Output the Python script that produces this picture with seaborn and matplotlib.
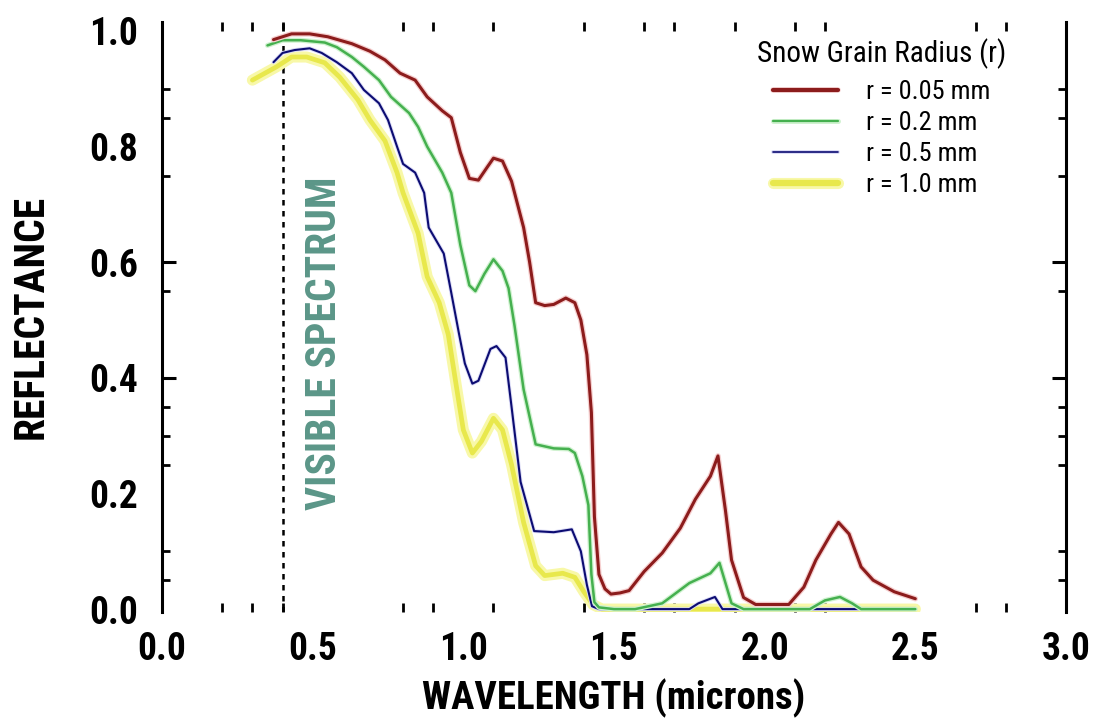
import matplotlib
matplotlib.use("Agg")
import matplotlib.pyplot as plt
import matplotlib.patheffects as pe
from matplotlib import font_manager as fm
import seaborn as sns
import pandas as pd

# ---------------- data ----------------
red_x = [0.37, 0.43, 0.49, 0.55, 0.63, 0.69, 0.74, 0.79, 0.84, 0.88, 0.93, 0.96, 0.99, 1.02, 1.05,
         1.08, 1.10, 1.13, 1.16, 1.20, 1.22, 1.24, 1.27, 1.30, 1.34, 1.37, 1.39, 1.41, 1.425, 1.435,
         1.45, 1.47, 1.49, 1.52, 1.55, 1.60, 1.66, 1.72, 1.77, 1.82, 1.845, 1.87, 1.89, 1.93, 1.97,
         2.08, 2.13, 2.17, 2.22, 2.245, 2.28, 2.32, 2.36, 2.43, 2.50]
red_y = [0.985, 0.995, 0.995, 0.99, 0.978, 0.965, 0.95, 0.927, 0.915, 0.886, 0.862, 0.85, 0.79, 0.745, 0.742,
         0.765, 0.78, 0.775, 0.74, 0.66, 0.60, 0.53, 0.525, 0.527, 0.538, 0.53, 0.50, 0.44, 0.34, 0.16,
         0.06, 0.035, 0.026, 0.028, 0.032, 0.065, 0.097, 0.14, 0.19, 0.23, 0.265, 0.17, 0.085, 0.02, 0.008,
         0.008, 0.038, 0.085, 0.13, 0.15, 0.13, 0.073, 0.05, 0.03, 0.018]

green_x = [0.35, 0.40, 0.46, 0.54, 0.58, 0.63, 0.67, 0.72, 0.76, 0.82, 0.85, 0.88, 0.93, 0.96, 0.99,
           1.02, 1.04, 1.07, 1.10, 1.13, 1.15, 1.17, 1.20, 1.24, 1.30, 1.35, 1.37, 1.395, 1.415, 1.425,
           1.435, 1.45, 1.50, 1.57, 1.66, 1.75, 1.82, 1.85, 1.87, 1.89, 1.93, 2.15, 2.20, 2.25, 2.29,
           2.32, 2.50]
green_y = [0.975, 0.984, 0.984, 0.98, 0.972, 0.955, 0.938, 0.915, 0.886, 0.858, 0.834, 0.80, 0.755, 0.72, 0.63,
           0.56, 0.55, 0.58, 0.605, 0.585, 0.555, 0.49, 0.38, 0.285, 0.278, 0.277, 0.27, 0.23, 0.18, 0.06,
           0.012, 0.003, 0.0, 0.0, 0.01, 0.045, 0.062, 0.08, 0.045, 0.01, 0.0, 0.0, 0.015, 0.021, 0.01,
           0.0, 0.0]

blue_x = [0.37, 0.40, 0.44, 0.49, 0.53, 0.58, 0.63, 0.67, 0.72, 0.75, 0.78, 0.80, 0.84, 0.87, 0.885,
          0.935, 0.96, 0.985, 1.005, 1.03, 1.05, 1.09, 1.11, 1.14, 1.16, 1.19, 1.235, 1.30, 1.36, 1.39,
          1.41, 1.427, 1.45, 1.75, 1.78, 1.835, 1.86, 2.50]
blue_y = [0.946, 0.962, 0.967, 0.97, 0.962, 0.946, 0.927, 0.898, 0.875, 0.846, 0.80, 0.77, 0.755, 0.72, 0.66,
          0.615, 0.547, 0.478, 0.425, 0.39, 0.395, 0.45, 0.455, 0.435, 0.35, 0.22, 0.135, 0.133, 0.138, 0.10,
          0.042, 0.005, 0.0, 0.0, 0.01, 0.021, 0.0, 0.0]

yellow_x = [0.30, 0.38, 0.43, 0.48, 0.54, 0.59, 0.65, 0.69, 0.74, 0.78, 0.80, 0.85, 0.88, 0.92, 0.95,
            0.98, 1.00, 1.03, 1.06, 1.10, 1.13, 1.16, 1.20, 1.24, 1.27, 1.33, 1.37, 1.40, 1.43, 1.46, 2.50]
yellow_y = [0.915, 0.938, 0.955, 0.955, 0.945, 0.92, 0.881, 0.846, 0.81, 0.755, 0.72, 0.65, 0.575, 0.53, 0.475,
            0.375, 0.31, 0.27, 0.29, 0.33, 0.31, 0.25, 0.15, 0.075, 0.058, 0.062, 0.055, 0.03, 0.008, 0.0, 0.0]

series_labels = ["r = 0.05 mm", "r = 0.2 mm", "r = 0.5 mm", "r = 1.0 mm"]
x_tick_values = [0.0, 0.5, 1.0, 1.5, 2.0, 2.5, 3.0]
x_tick_labels = ["0.0", "0.5", "1.0", "1.5", "2.0", "2.5", "3.0"]
y_tick_values = [0.0, 0.2, 0.4, 0.6, 0.8, 1.0]
y_tick_labels = ["0.0", "0.2", "0.4", "0.6", "0.8", "1.0"]
x_minor_ticks = [0.2, 0.3, 0.4, 0.5, 0.8, 0.9, 1.1, 1.4, 1.6, 1.7, 1.9, 2.0, 2.1, 2.2, 2.5, 2.7, 2.8]
y_minor_ticks = [0.05, 0.1, 0.25, 0.3, 0.35, 0.55, 0.75, 0.85, 0.9]
visible_edge = 0.4

# ---------------- style ----------------
sns.set_theme(style="white")
names = {f.name for f in fm.fontManager.ttflist}
cands = ["Liberation Sans Narrow", "Roboto Condensed", "Open Sans Condensed", "DejaVu Sans Condensed"]
narrow_name = next((c for c in cands if c in names), None)
condensed_dejavu = any(f.name == "DejaVu Sans" and f.stretch == "condensed" for f in fm.fontManager.ttflist)
if narrow_name:
    narrow = [narrow_name, "DejaVu Sans"]
    stretch = "normal"
elif condensed_dejavu:
    narrow = ["DejaVu Sans"]
    stretch = "condensed"
else:
    narrow = ["Liberation Sans", "DejaVu Sans"]
    stretch = "normal"
plt.rcParams["font.family"] = narrow
plt.rcParams["font.stretch"] = stretch
for k in ["text.color", "axes.labelcolor", "xtick.color", "ytick.color"]:
    plt.rcParams[k] = "black"

fig = plt.figure(figsize=(10.93, 7.20), dpi=100)
W, H = 1093, 720
left, right, top, bottom = 162, 1066, 22.3, 612
ax = fig.add_axes([left / W, 1 - bottom / H, (right - left) / W, (bottom - top) / H])

colors = ["#8c1c1c", "#45b04f", "#0c0c72", "#e8e84c"]
widths = [2.2, 1.8, 1.5, 3.4]
halos = ["#f6d0d0", "#d0f2d0", "#dcdcf6", "#f8f8a8"]
halo_w = [4.0, 3.6, 2.8, 8.0]

data = [(red_x, red_y), (green_x, green_y), (blue_x, blue_y), (yellow_x, yellow_y)]
order = [3, 2, 1, 0]
for i in order:
    xs, ys = data[i]
    df = pd.DataFrame({"wavelength": xs, "reflectance": ys})
    sns.lineplot(data=df, x="wavelength", y="reflectance", ax=ax, color=colors[i],
                 linewidth=widths[i], label=series_labels[i], sort=False, estimator=None,
                 path_effects=[pe.Stroke(linewidth=halo_w[i], foreground=halos[i]), pe.Normal()])

ax.axvline(visible_edge, color="black", linewidth=1.8, linestyle=(0, (2.2, 2.2)), zorder=1)

ax.text(0.54, 0.46, "VISIBLE SPECTRUM", rotation=90, ha="center", va="center",
        color="#5b9688", fontsize=30, fontweight="bold")

ax.set_xlim(0, 3.0)
ax.set_ylim(-0.005, 1.015)

for s in ["top", "bottom"]:
    ax.spines[s].set_visible(False)
for s in ["left", "right"]:
    ax.spines[s].set_visible(True)
    ax.spines[s].set_color("black")
    ax.spines[s].set_linewidth(2.2)

ax.set_xticks(x_tick_values)
ax.set_xticklabels(x_tick_labels, fontsize=27, fontweight="bold")
ax.set_yticks(y_tick_values)
ax.set_yticklabels(y_tick_labels, fontsize=27, fontweight="bold")
ax.set_xticks(x_minor_ticks, minor=True)
ax.set_yticks(y_minor_ticks, minor=True)
ax.tick_params(axis="x", which="major", length=0, pad=14)
ax.tick_params(axis="y", which="major", length=0, pad=17,
               left=True, right=True, direction="in", width=2.2)
ax.tick_params(axis="x", which="minor", bottom=True, top=True, direction="in",
               length=6.5, width=2.0, color="black")
ax.tick_params(axis="y", which="minor", left=True, right=True, direction="in",
               length=6, width=2.0, color="black")
for t, v in zip(ax.yaxis.get_major_ticks(), y_tick_values):
    if v in (0.4, 0.6):
        t.tick1line.set_markersize(10)
        t.tick2line.set_markersize(10)
ax.grid(False)

ax.set_xlabel("WAVELENGTH (microns)", fontsize=28, fontweight="bold")
ax.set_ylabel("REFLECTANCE", fontsize=30, fontweight="bold")
ax.xaxis.set_label_coords(0.5, -(698 - bottom) / (bottom - top))
ax.xaxis.label.set_va("center")
ax.yaxis.set_label_coords((31 - left) / (right - left), 0.5)
ax.yaxis.label.set_va("center")

handles, labels = ax.get_legend_handles_labels()
hmap = dict(zip(labels, handles))
leg = ax.legend([hmap[l] for l in series_labels], series_labels,
                title="Snow Grain Radius (r)", loc="upper left",
                bbox_to_anchor=(757 / W, 1 - 38 / H), bbox_transform=fig.transFigure,
                frameon=False, fontsize=19, title_fontsize=21, borderpad=0, borderaxespad=0,
                handlelength=2.45, handletextpad=1.05, labelspacing=0.27)
leg._legend_box.sep = 8
leg_widths = [3.0, 1.6, 1.2, 4.5]
for ln, lw in zip(leg.get_lines(), leg_widths):
    ln.set_linewidth(lw)

fig.savefig("out.png", dpi=100, facecolor="white")
